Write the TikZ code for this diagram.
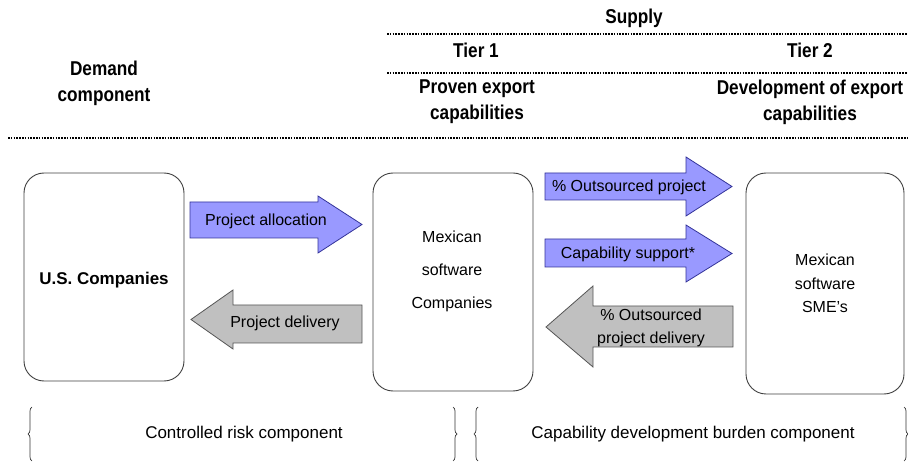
\documentclass[tikz,border=0pt]{standalone}
\usepackage{fontspec}
\setmainfont{Liberation Sans}
\newfontfamily\hdrfont[FakeStretch=0.86]{Liberation Sans}
\usetikzlibrary{decorations.pathreplacing}
\definecolor{arrblue}{HTML}{9999FF}
\definecolor{arrblueline}{HTML}{333399}
\definecolor{arrgray}{HTML}{C0C0C0}
\definecolor{arrgrayline}{HTML}{555555}
\definecolor{boxline}{HTML}{404040}
\begin{document}
\begin{tikzpicture}[x=1pt,y=-1pt,
  hdr/.style={font=\hdrfont\bfseries\fontsize{20}{26}\selectfont, align=center, inner sep=0pt},
  txt/.style={font=\fontsize{16}{20}\selectfont, align=center, inner sep=0pt},
  dotline/.style={line width=2pt, dash pattern=on 1.6pt off 1.2pt, black},
  compbox/.style={draw=boxline, line width=0.9pt, rounded corners=20pt, fill=white, inner sep=0pt},
  bluearr/.style={draw=arrblueline, line width=0.8pt, fill=arrblue, line join=miter},
  grayarr/.style={draw=arrgrayline, line width=0.8pt, fill=arrgray, line join=miter},
  bracestyle/.style={draw=black!80, line width=0.7pt, decorate, decoration={brace, amplitude=4pt}}
]
\useasboundingbox (0,0) rectangle (908,462);

% header texts
\node[hdr] (supply) at (634,18) {Supply};
\node[hdr] (tier1) at (476,50) {Tier 1};
\node[hdr] (tier2) at (810,50) {Tier 2};
\node[hdr] (proven) at (477,102) {Proven export\\capabilities};
\node[hdr] (develop) at (810,102) {Development of export\\capabilities};
\node[hdr] (demand) at (104,83) {Demand\\component};

% dotted rules
\coordinate (d1a) at (387,34); \coordinate (d1b) at (908,34);
\coordinate (d2a) at (387,73); \coordinate (d2b) at (908,73);
\coordinate (d3a) at (8,138);  \coordinate (d3b) at (908,138);
\draw[dotline] (d1a) -- (d1b);
\draw[dotline] (d2a) -- (d2b);
\draw[dotline] (d3a) -- (d3b);

% boxes
\node[compbox, minimum width=160pt, minimum height=208pt] (us) at (104,277) {};
\node[compbox, minimum width=160pt, minimum height=218pt] (mex) at (453,282) {};
\node[compbox, minimum width=158pt, minimum height=221pt] (sme) at (825,283.5) {};
\node[txt, font=\bfseries\fontsize{17}{20}\selectfont] (ustxt) at (104,280) {U.S. Companies};
\node[txt, font=\fontsize{16}{33}\selectfont] (mextxt) at (452,271) {Mexican\\software\\Companies};
\node[txt, font=\fontsize{16}{23.5}\selectfont] (smetxt) at (825,283.5) {Mexican\\software\\SME’s};

% block arrows
\draw[bluearr] (190,202) -- (318,202) -- (318,196) -- (362,224.5) -- (318,253) -- (318,238) -- (190,238) -- cycle;
\draw[grayarr] (362,305) -- (233,305) -- (233,290) -- (191,319.5) -- (233,349) -- (233,343) -- (362,343) -- cycle;
\draw[bluearr] (545,173) -- (686,173) -- (686,157) -- (732,186.5) -- (686,216) -- (686,200) -- (545,200) -- cycle;
\draw[bluearr] (545,239) -- (686,239) -- (686,225) -- (732,253.5) -- (686,282) -- (686,267) -- (545,267) -- cycle;
\draw[grayarr] (733,306) -- (593,306) -- (593,286) -- (546,327) -- (593,367) -- (593,347) -- (733,347) -- cycle;

\node[txt] (alloc) at (266,221) {Project allocation};
\node[txt] (deliv) at (285,323) {Project delivery};
\node[txt] (outs) at (629,187) {\% Outsourced project};
\node[txt] (capsup) at (628,254) {Capability support*};
\node[txt, font=\fontsize{16}{23}\selectfont] (outsdel) at (651,328) {\% Outsourced\\project delivery};

% braces
\coordinate (b1t) at (32,407);  \coordinate (b1b) at (32,461);
\coordinate (b2t) at (453,407); \coordinate (b2b) at (453,461);
\coordinate (b3t) at (478,407); \coordinate (b3b) at (478,461);
\coordinate (b4t) at (904,407); \coordinate (b4b) at (904,461);
\draw[bracestyle] (b1b) -- (b1t);
\draw[bracestyle] (b2t) -- (b2b);
\draw[bracestyle] (b3b) -- (b3t);
\draw[bracestyle] (b4t) -- (b4b);

\node[txt, font=\fontsize{17}{20}\selectfont] (ctrl) at (244,434) {Controlled risk component};
\node[txt, font=\fontsize{17}{20}\selectfont] (burden) at (693,434) {Capability development burden component};
\end{tikzpicture}
\end{document}
